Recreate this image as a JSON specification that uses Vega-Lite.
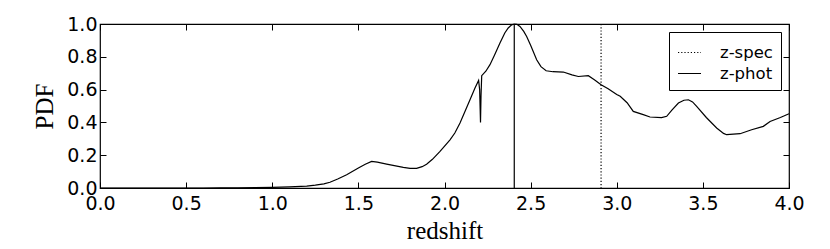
{
  "$schema": "https://vega.github.io/schema/vega-lite/v6.json",
  "width": 689,
  "height": 164,
  "autosize": {"type": "none"},
  "padding": {"left": 100, "top": 24, "right": 41, "bottom": 61},
  "background": "white",
  "config": {
    "view": {"stroke": "black", "strokeWidth": 1.2},
    "axis": {
      "grid": false,
      "domain": false,
      "tickColor": "black",
      "tickSize": -6,
      "tickWidth": 1,
      "labelFlush": false,
      "labelColor": "black",
      "labelFont": "DejaVu Sans",
      "labelFontSize": 19,
      "titleFont": "Liberation Serif",
      "titleFontSize": 25,
      "titleFontWeight": "normal",
      "titleColor": "black"
    }
  },
  "datasets": {
    "pdf": [
      {"z": 0.0, "pdf": 0},
      {"z": 0.3, "pdf": 0},
      {"z": 0.6, "pdf": 0},
      {"z": 0.7, "pdf": 0.0005},
      {"z": 0.8, "pdf": 0.001},
      {"z": 0.9, "pdf": 0.002},
      {"z": 1.0, "pdf": 0.004},
      {"z": 1.1, "pdf": 0.007},
      {"z": 1.2, "pdf": 0.012},
      {"z": 1.25, "pdf": 0.017},
      {"z": 1.3, "pdf": 0.025},
      {"z": 1.335, "pdf": 0.035},
      {"z": 1.38, "pdf": 0.055},
      {"z": 1.432, "pdf": 0.081},
      {"z": 1.5, "pdf": 0.122},
      {"z": 1.54, "pdf": 0.145},
      {"z": 1.577, "pdf": 0.162},
      {"z": 1.61, "pdf": 0.158},
      {"z": 1.664, "pdf": 0.146},
      {"z": 1.761, "pdf": 0.126},
      {"z": 1.8, "pdf": 0.12},
      {"z": 1.838, "pdf": 0.12},
      {"z": 1.87, "pdf": 0.13},
      {"z": 1.896, "pdf": 0.145},
      {"z": 1.93, "pdf": 0.175},
      {"z": 1.974, "pdf": 0.223},
      {"z": 2.032, "pdf": 0.294},
      {"z": 2.06, "pdf": 0.335},
      {"z": 2.09, "pdf": 0.396},
      {"z": 2.12, "pdf": 0.47},
      {"z": 2.148, "pdf": 0.538},
      {"z": 2.177, "pdf": 0.61},
      {"z": 2.198, "pdf": 0.656},
      {"z": 2.204, "pdf": 0.6},
      {"z": 2.209, "pdf": 0.4},
      {"z": 2.212, "pdf": 0.56},
      {"z": 2.216, "pdf": 0.685},
      {"z": 2.24, "pdf": 0.712},
      {"z": 2.264, "pdf": 0.752},
      {"z": 2.29, "pdf": 0.81},
      {"z": 2.322, "pdf": 0.884},
      {"z": 2.35, "pdf": 0.945},
      {"z": 2.37, "pdf": 0.976},
      {"z": 2.39, "pdf": 0.995},
      {"z": 2.405, "pdf": 1.0},
      {"z": 2.42, "pdf": 0.998},
      {"z": 2.438, "pdf": 0.985},
      {"z": 2.46, "pdf": 0.955},
      {"z": 2.477, "pdf": 0.924},
      {"z": 2.5, "pdf": 0.87},
      {"z": 2.535, "pdf": 0.782},
      {"z": 2.56, "pdf": 0.74},
      {"z": 2.59, "pdf": 0.715},
      {"z": 2.63, "pdf": 0.709},
      {"z": 2.69, "pdf": 0.707},
      {"z": 2.74, "pdf": 0.69},
      {"z": 2.777, "pdf": 0.68},
      {"z": 2.835, "pdf": 0.685},
      {"z": 2.87, "pdf": 0.66},
      {"z": 2.909, "pdf": 0.63},
      {"z": 2.95, "pdf": 0.605},
      {"z": 3.0, "pdf": 0.57},
      {"z": 3.02, "pdf": 0.559},
      {"z": 3.06, "pdf": 0.52},
      {"z": 3.096, "pdf": 0.467},
      {"z": 3.154, "pdf": 0.447},
      {"z": 3.193, "pdf": 0.433},
      {"z": 3.26, "pdf": 0.429},
      {"z": 3.29, "pdf": 0.437},
      {"z": 3.32, "pdf": 0.475},
      {"z": 3.358, "pdf": 0.518},
      {"z": 3.39, "pdf": 0.535},
      {"z": 3.416, "pdf": 0.538},
      {"z": 3.44, "pdf": 0.525},
      {"z": 3.464, "pdf": 0.498},
      {"z": 3.52, "pdf": 0.43},
      {"z": 3.58, "pdf": 0.366},
      {"z": 3.62, "pdf": 0.333},
      {"z": 3.638, "pdf": 0.325},
      {"z": 3.716, "pdf": 0.331},
      {"z": 3.783, "pdf": 0.355},
      {"z": 3.851, "pdf": 0.376},
      {"z": 3.89, "pdf": 0.406},
      {"z": 3.95, "pdf": 0.43},
      {"z": 4.0, "pdf": 0.453}
    ],
    "lines": [
      {"z": 2.909, "label": "z-spec"},
      {"z": 2.405, "label": "z-phot"}
    ]
  },
  "layer": [
    {
      "data": {"name": "pdf"},
      "mark": {"type": "line", "color": "black", "strokeWidth": 1.2},
      "encoding": {
        "x": {
          "field": "z", "type": "quantitative",
          "scale": {"domain": [0, 4], "nice": false, "zero": false},
          "axis": {"title": "redshift", "values": [0, 0.5, 1, 1.5, 2, 2.5, 3, 3.5, 4], "format": ".1f", "labelPadding": 12, "titlePadding": 5}
        },
        "y": {
          "field": "pdf", "type": "quantitative",
          "scale": {"domain": [0, 1], "nice": false},
          "axis": {"title": "PDF", "values": [0, 0.2, 0.4, 0.6, 0.8, 1], "format": ".1f", "labelPadding": 9, "titlePadding": 9}
        }
      }
    },
    {
      "data": {"name": "lines"},
      "mark": {"type": "rule", "color": "black", "strokeWidth": 1.2},
      "encoding": {
        "x": {
          "field": "z", "type": "quantitative",
          "axis": {"orient": "top", "labels": false, "title": null, "values": [0, 0.5, 1, 1.5, 2, 2.5, 3, 3.5, 4]}
        },
        "strokeDash": {
          "field": "label", "type": "nominal",
          "scale": {"domain": ["z-spec", "z-phot"], "range": [[1.2, 2], [1, 0]]},
          "legend": {
            "title": null,
            "orient": "none",
            "legendX": 569,
            "legendY": 8,
            "strokeColor": "black",
            "fillColor": "white",
            "padding": 8,
            "cornerRadius": 0,
            "symbolType": "stroke",
            "symbolSize": 529,
            "symbolStrokeColor": "black",
            "symbolStrokeWidth": 1.2,
            "labelFont": "DejaVu Sans",
            "labelFontSize": 16.5,
            "labelColor": "black",
            "labelOffset": 18,
            "rowPadding": 0
          }
        }
      }
    },
    {
      "data": {"name": "pdf"},
      "mark": {"type": "line", "opacity": 0},
      "encoding": {
        "x": {"field": "z", "type": "quantitative", "axis": null},
        "y": {
          "field": "pdf", "type": "quantitative",
          "axis": {"orient": "right", "labels": false, "title": null, "values": [0, 0.2, 0.4, 0.6, 0.8, 1]}
        }
      }
    }
  ],
  "resolve": {"axis": {"x": "independent", "y": "independent"}}
}
